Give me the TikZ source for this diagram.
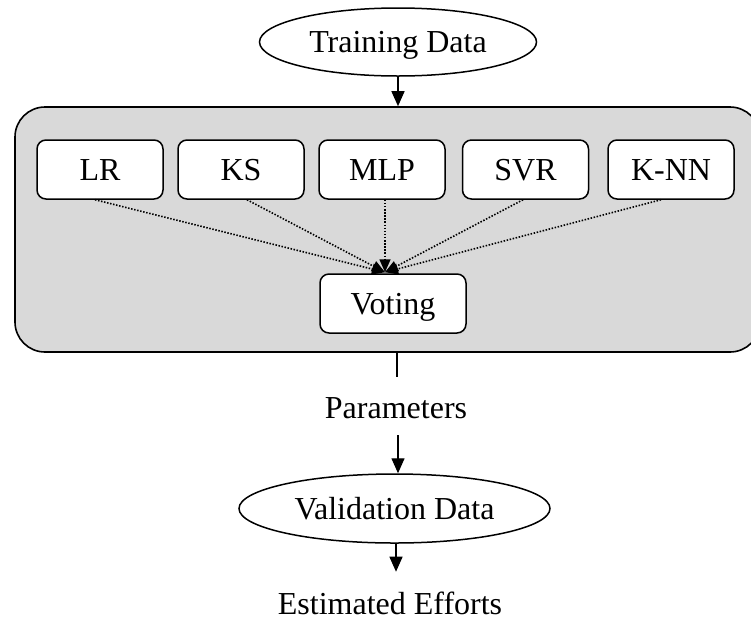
\documentclass[tikz,border=0pt]{standalone}
\usepackage{fontspec}
\setmainfont{Liberation Serif}
\usetikzlibrary{arrows.meta,shapes.geometric}
\definecolor{ensgray}{RGB}{217,217,217}
\tikzset{
  lbl/.style={font=\fontsize{32}{38}\selectfont, text height=21.2pt, text depth=0pt, inner sep=0pt},
  oval/.style={lbl, draw, line width=1.5pt, ellipse, fill=white},
  model/.style={lbl, draw, line width=1.5pt, fill=white, rounded corners=9pt, minimum width=126pt, minimum height=59pt},
  ens/.style={draw, line width=1.6pt, fill=ensgray, rounded corners=30pt, inner sep=0pt},
  flow/.style={line width=1.4pt, -{Triangle[length=15pt,width=13pt]}},
  vote/.style={line width=1.6pt, dash pattern=on 1.5pt off 1.6pt, -{Triangle[length=13pt,width=11pt]}},
}
\begin{document}
\begin{tikzpicture}[x=1pt,y=-1pt]
\useasboundingbox (0,0) rectangle (751,619);
% ensemble container
\node[ens, minimum width=745pt, minimum height=245pt] (ensemble) at (387.5,229.5) {};
% top
\node[oval, minimum width=277pt, minimum height=68pt] (train) at (398,42) {Training Data};
% models
\node[model] (lr)  at (100,169.5)   {LR};
\node[model] (ks)  at (241,169.5)   {KS};
\node[model] (mlp) at (382,169.5)   {MLP};
\node[model] (svr) at (525.5,169.5) {SVR};
\node[model] (knn) at (671,169.5)   {K-NN};
\node[model, minimum width=146pt] (voting) at (393,303.5) {Voting};
% bottom part
\node[lbl] (params) at (396,407.5) {Parameters};
\node[oval, minimum width=311pt, minimum height=69pt] (valid) at (394.5,508.5) {Validation Data};
\node[lbl] (est) at (390,603.5) {Estimated Efforts};
% connectors
\draw[flow] (train.south) -- (train.south |- ensemble.north);
\draw[vote] ([xshift=-5pt]lr.south)  -- ([xshift=-8pt,yshift=1pt]voting.north);
\draw[vote] ([xshift=6pt]ks.south)   -- ([xshift=-8pt,yshift=1pt]voting.north);
\draw[vote] ([xshift=3pt]mlp.south)  -- ([xshift=-8pt,yshift=1pt]voting.north);
\draw[vote] ([xshift=-2.5pt]svr.south) -- ([xshift=-8pt,yshift=1pt]voting.north);
\draw[vote] ([xshift=-10pt]knn.south) -- ([xshift=-8pt,yshift=1pt]voting.north);
\draw[line width=1.4pt] ([xshift=1pt]params.north |- ensemble.south) -- ([xshift=1pt,yshift=20pt]params.north);
\draw[flow] ([xshift=2pt,yshift=-17pt]params.south) -- ([xshift=2pt]params.south |- valid.north);
\draw[flow] ([xshift=1.5pt]valid.south) -- ([xshift=1.5pt,yshift=21pt]valid.south |- est.north);
\end{tikzpicture}
\end{document}
